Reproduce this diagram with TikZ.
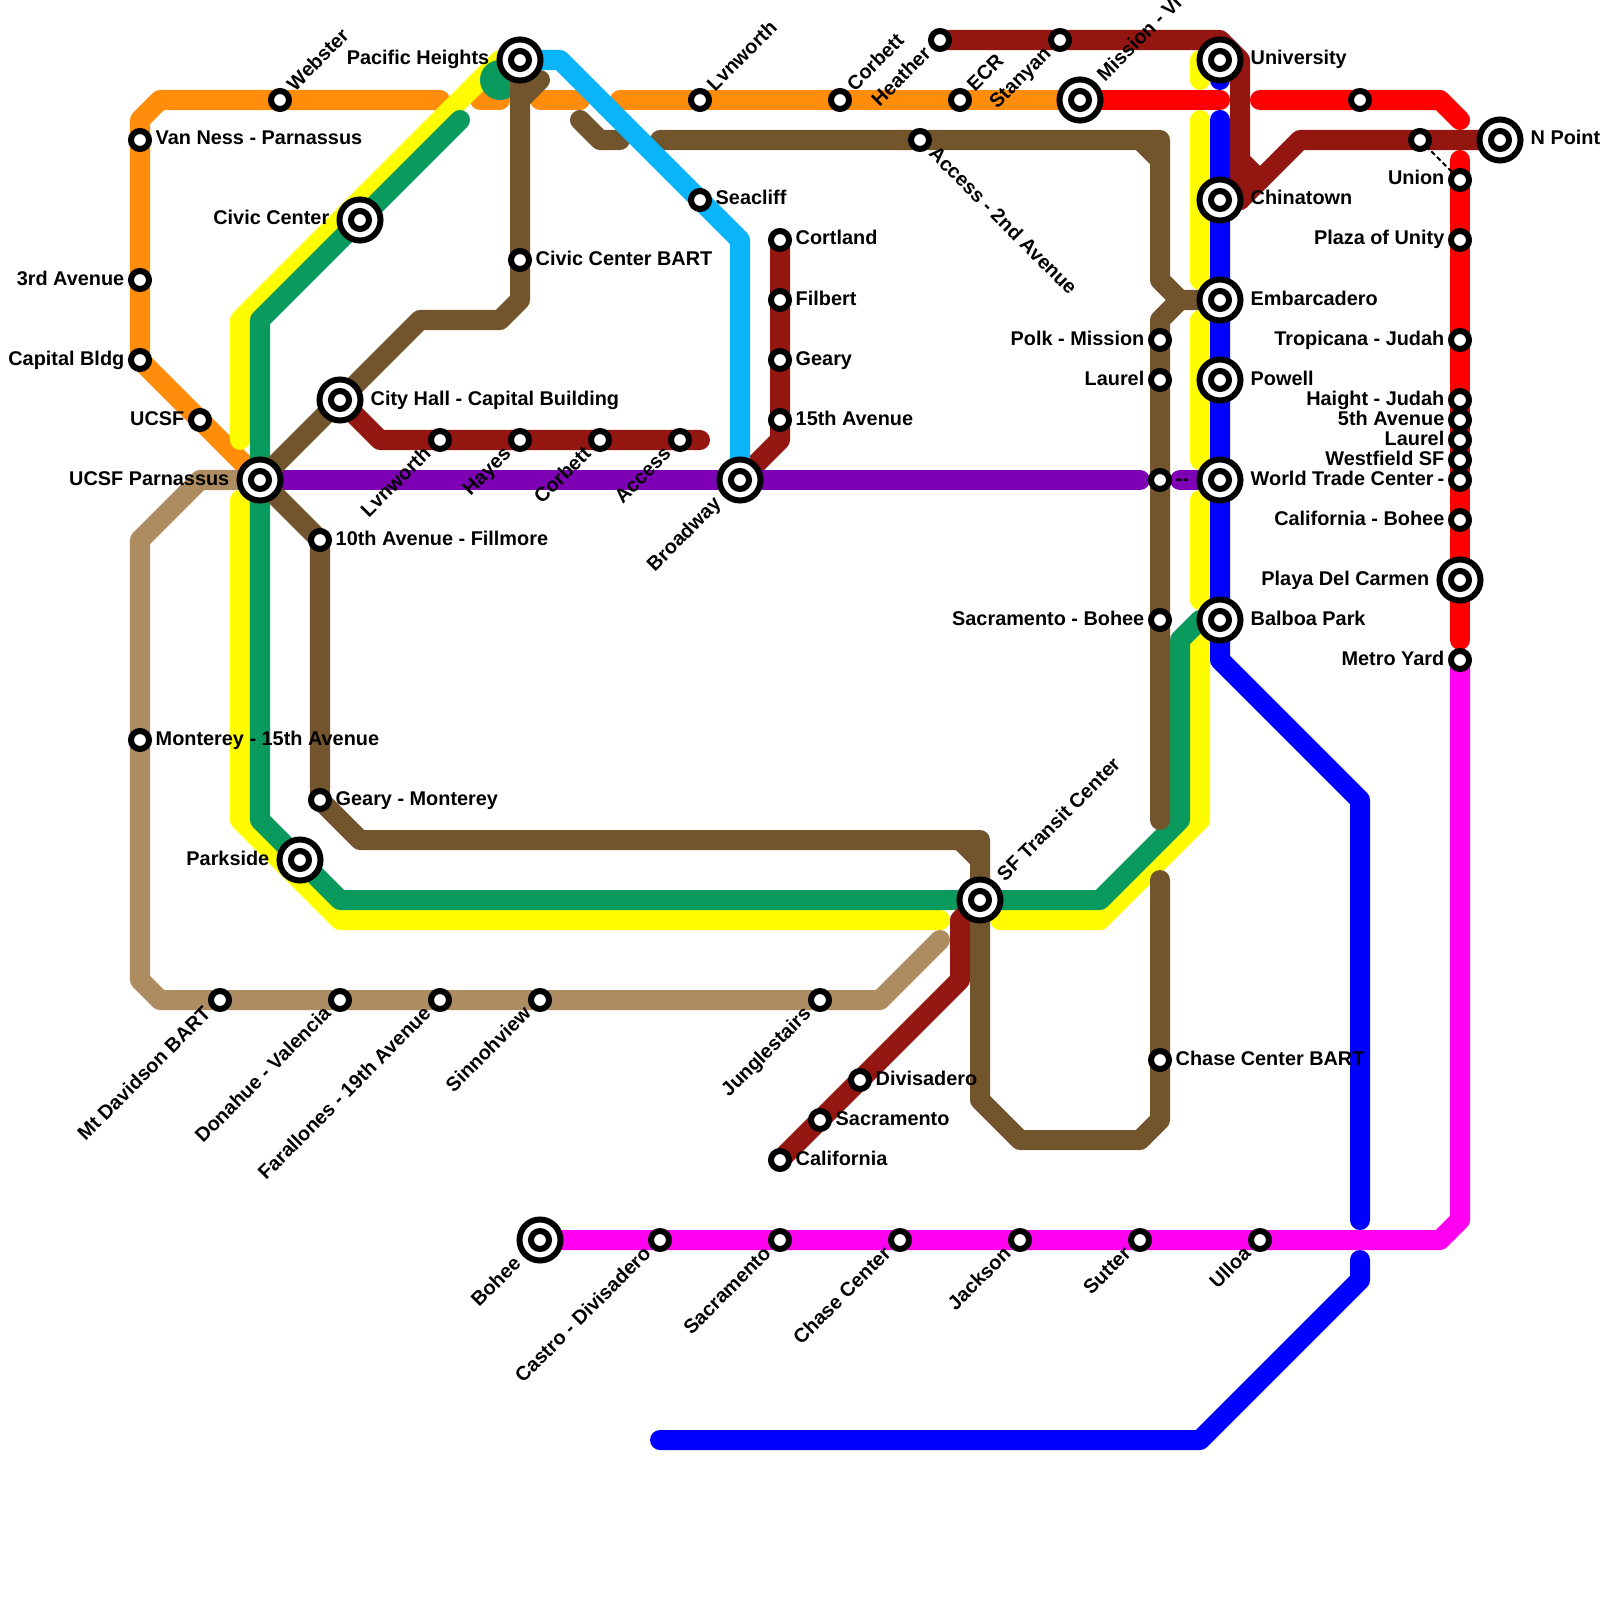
\documentclass[tikz,border=0pt]{standalone}
\usepackage{fontspec}
\setmainfont{Liberation Sans}
\usepackage{xcolor}
\usetikzlibrary{calc}
\definecolor{lorange}{HTML}{FF8C0A}
\definecolor{lred}{HTML}{FF0000}
\definecolor{ldark}{HTML}{931611}
\definecolor{lblue}{HTML}{0000FF}
\definecolor{lyellow}{HTML}{FFFC00}
\definecolor{lgreen}{HTML}{0A9A5E}
\definecolor{lcyan}{HTML}{0AB4F8}
\definecolor{lpurple}{HTML}{7D00B4}
\definecolor{ltan}{HTML}{AE8C62}
\definecolor{lbrown}{HTML}{72542D}
\definecolor{lpink}{HTML}{FF00F0}
\tikzset{
  metro/.style={line width=2mm,line cap=round,line join=round},
  stop/.style={circle,draw=black,fill=white,line width=0.6mm,minimum size=1.8mm,inner sep=0pt},
  hub/.style={circle,draw=black,fill=white,line width=0.6mm,minimum size=4.1mm,inner sep=0pt},
  lab/.style={font=\bfseries\fontsize{5.65pt}{6pt}\selectfont,inner sep=0pt},
  labr/.style={lab,anchor=base west},
  labl/.style={lab,anchor=base east},
  labne/.style={lab,anchor=base west,rotate=45},
  labsw/.style={lab,anchor=base east,rotate=45},
  labse/.style={lab,anchor=base west,rotate=-45}
}
\begin{document}
\begin{tikzpicture}[x=0.01cm,y=-0.01cm]
\useasboundingbox (0,0) rectangle (1600,1600);
% stations
\foreach \n/\x/\y in {vanness/140/140,third/140/280,capbldg/140/360,ucsf/200/420,webster/280/100,
  parnassus/260/480,civic/360/220,cityhall/340/400,pacific/520/60,parkside/300/860,broadway/740/480,
  lvnworth/700/100,corbett/840/100,ecr/960/100,mission/1080/100,heather/940/40,stanyan/1060/40,
  university/1220/60,chinatown/1220/200,embarcadero/1220/300,powell/1220/380,wtc/1220/480,balboa/1220/620,
  npoint/1500/140,toprail/1360/100,toplink/1420/140,union/1460/180,unity/1460/240,tropicana/1460/340,
  haight/1460/400,fifth/1460/420,laurelb/1460/440,westfield/1460/460,dash/1460/480,calbohee/1460/520,
  playa/1460/580,metroyard/1460/660,access/920/140,civicbart/520/260,seacliff/700/200,
  cortland/780/240,filbert/780/300,geary/780/360,avefifteen/780/420,lvnworthb/440/440,hayes/520/440,
  corbettb/600/440,accessb/680/440,aveten/320/540,gearymont/320/800,polk/1160/340,laurel/1160/380,
  dashb/1160/480,sacbohee/1160/620,chasebart/1160/1060,sftransit/980/900,monterey/140/740,
  davidson/220/1000,donahue/340/1000,farallones/440/1000,sinnoh/540/1000,jungle/820/1000,
  divis/860/1080,sacra/820/1120,california/780/1160,bohee/540/1240,castro/660/1240,sacrab/780/1240,
  chase/900/1240,jackson/1020/1240,sutter/1140/1240,ulloa/1260/1240}{
  \coordinate (\n) at (\x,\y);
}
% free ends of the lines
\foreach \n/\x/\y in {oa/440/100,ob/480/100,oc/500/100,od/540/100,oe/580/100,of/620/100,
  ra/1220/100,rb/1260/100,rc/1460/120,rd/1460/160,re/1460/640,da/1260/180,db/700/440,
  ba/1220/80,bb/1220/120,bc/1360/1220,bd/1360/1260,be/660/1440,
  ya/1200/60,yb/1200/80,yc/1200/120,yd/1200/280,ye/1200/320,yf/1200/460,yg/1200/500,yh/1200/600,
  yi/1200/640,yj/1000/920,yk/940/920,yl/240/500,ym/240/440,ga/460/120,gb/500/80,
  pa/1140/480,pb/1180/480,ta/940/940,wa/660/140,wb/620/140,wc/580/120,wd/540/80,we/1160/820,wf/1160/880}{
  \coordinate (\n) at (\x,\y);
}
% lines
\draw[metro,lorange] (parnassus) -- (capbldg) -- (140,120) -- (160,100) -- (oa);
\draw[metro,lorange] (ob) -- (oc);
\draw[metro,lorange] (od) -- (oe);
\draw[metro,lorange] (of) -- (mission);
\draw[metro,ltan] (parnassus) -- (200,480) -- (140,540) -- (140,980) -- (160,1000) -- (880,1000) -- (ta);
\draw[metro,lyellow] (ya) -- (yb);
\draw[metro,lyellow] (yc) -- (yd);
\draw[metro,lyellow] (ye) -- (yf);
\draw[metro,lyellow] (yg) -- (yh);
\draw[metro,lyellow] (yi) -- (1200,820) -- (1100,920) -- (yj);
\draw[metro,lyellow] (yk) -- (340,920) -- (240,820) -- (yl);
\draw[metro,lyellow] (ym) -- (240,320) -- (500,60) -- (pacific);
\fill[lgreen] (gb) circle (2mm);
\draw[metro,lgreen] (ga) -- (260,320) -- (260,820) -- (340,900) -- (1100,900) -- (1180,820) -- (1180,640) -- (1200,620) -- (balboa);
\draw[metro,ldark] (heather) -- (1220,40) -- (1240,60) -- (1240,200);
\draw[metro,ldark] (1240,160) -- (da);
\draw[metro,ldark] (npoint) -- (1300,140) -- (1240,200) -- (chinatown);
\draw[metro,ldark] (cityhall) -- (380,440) -- (db);
\draw[metro,ldark] (broadway) -- (780,440) -- (cortland);
\draw[metro,ldark] (sftransit) -- (960,920) -- (960,980) -- (california);
\draw[metro,lred] (mission) -- (ra);
\draw[metro,lred] (rb) -- (1440,100) -- (rc);
\draw[metro,lred] (rd) -- (re);
\draw[metro,lpurple] (parnassus) -- (pa);
\draw[metro,lpurple] (pb) -- (wtc);
\draw[metro,lblue] (university) -- (ba);
\draw[metro,lblue] (bb) -- (1220,660) -- (1360,800) -- (bc);
\draw[metro,lblue] (bd) -- (1360,1280) -- (1200,1440) -- (be);
\draw[metro,lpink] (bohee) -- (1440,1240) -- (1460,1220) -- (metroyard);
\draw[metro,lbrown] (wa) -- (1160,140) -- (1160,280) -- (1180,300) -- (embarcadero);
\draw[metro,lbrown] (1140,140) -- (1160,160);
\draw[metro,lbrown] (1180,300) -- (1160,320) -- (we);
\draw[metro,lbrown] (wc) -- (600,140) -- (wb);
\draw[metro,lbrown] (wd) -- (520,100);
\draw[metro,lbrown] (pacific) -- (520,300) -- (500,320) -- (420,320) -- (parnassus);
\draw[metro,lbrown] (parnassus) -- (aveten) -- (320,800) -- (360,840) -- (980,840) -- (980,1100) -- (1020,1140) -- (1140,1140) -- (1160,1120) -- (wf);
\draw[metro,lbrown] (960,840) -- (980,860);
\draw[metro,lcyan] (pacific) -- (560,60) -- (740,240) -- (broadway);
\draw[black,line width=0.2mm,dash pattern=on 0.5mm off 0.3mm] (toplink) -- (union);
% plain stops with a label on the right
\foreach \n/\lab in {vanness/Van Ness - Parnassus,monterey/Monterey - 15th Avenue,civicbart/Civic Center BART,
  seacliff/Seacliff,cortland/Cortland,filbert/Filbert,geary/Geary,avefifteen/15th Avenue,
  aveten/10th Avenue - Fillmore,gearymont/Geary - Monterey,divis/Divisadero,sacra/Sacramento,
  california/California,chasebart/Chase Center BART,dashb/-{}-}{
  \node[stop] (s\n) at (\n) {};
  \node[labr] (l\n) at ($(\n)+(15,5)$) {\lab};
}
% plain stops with a label on the left
\foreach \n/\lab in {third/3rd Avenue,capbldg/Capital Bldg,ucsf/UCSF,polk/Polk - Mission,laurel/Laurel,
  sacbohee/Sacramento - Bohee,union/Union,unity/Plaza of Unity,tropicana/Tropicana - Judah,
  haight/Haight - Judah,fifth/5th Avenue,laurelb/Laurel,westfield/Westfield SF,dash/-,
  calbohee/California - Bohee,metroyard/Metro Yard}{
  \node[stop] (s\n) at (\n) {};
  \node[labl] (l\n) at ($(\n)+(-15,5)$) {\lab};
}
% plain stops, labels on a slant
\foreach \n/\lab in {webster/Webster,lvnworth/Lvnworth,corbett/Corbett,ecr/ECR}{
  \node[stop] (s\n) at (\n) {};
  \node[labne] (l\n) at ($(\n)+(14.5,-7.5)$) {\lab};
}
\foreach \n/\lab in {heather/Heather,stanyan/Stanyan,lvnworthb/Lvnworth,hayes/Hayes,corbettb/Corbett,
  accessb/Access,davidson/Mt Davidson BART,donahue/Donahue - Valencia,farallones/Farallones - 19th Avenue,
  sinnoh/Sinnohview,jungle/Junglestairs,castro/Castro - Divisadero,sacrab/Sacramento,chase/Chase Center,
  jackson/Jackson,sutter/Sutter,ulloa/Ulloa}{
  \node[stop] (s\n) at (\n) {};
  \node[labsw] (l\n) at ($(\n)+(-7.5,14.5)$) {\lab};
}
\node[stop] (saccess) at (access) {};
\node[labse] (laccess) at ($(access)+(7.5,14.5)$) {Access - 2nd Avenue};
\node[stop] (stoprail) at (toprail) {};
\node[stop] (stoplink) at (toplink) {};
% hubs
\foreach \n/\lab in {cityhall/City Hall - Capital Building,university/University,chinatown/Chinatown,
  embarcadero/Embarcadero,powell/Powell,wtc/World Trade Center,balboa/Balboa Park,npoint/N Point}{
  \node[hub] (h\n) at (\n) {};
  \node[stop] (s\n) at (\n) {};
  \node[labr] (l\n) at ($(\n)+(30,5)$) {\lab};
}
\foreach \n/\lab in {parnassus/UCSF Parnassus,civic/Civic Center,pacific/Pacific Heights,
  parkside/Parkside,playa/Playa Del Carmen}{
  \node[hub] (h\n) at (\n) {};
  \node[stop] (s\n) at (\n) {};
  \node[labl] (l\n) at ($(\n)+(-30,5)$) {\lab};
}
\foreach \n/\lab in {mission/Mission - Vi,sftransit/SF Transit Center}{
  \node[hub] (h\n) at (\n) {};
  \node[stop] (s\n) at (\n) {};
  \node[labne] (l\n) at ($(\n)+(24.5,-17.5)$) {\lab};
}
\foreach \n/\lab in {broadway/Broadway,bohee/Bohee}{
  \node[hub] (h\n) at (\n) {};
  \node[stop] (s\n) at (\n) {};
  \node[labsw] (l\n) at ($(\n)+(-17.5,24.5)$) {\lab};
}
\end{tikzpicture}
\end{document}
